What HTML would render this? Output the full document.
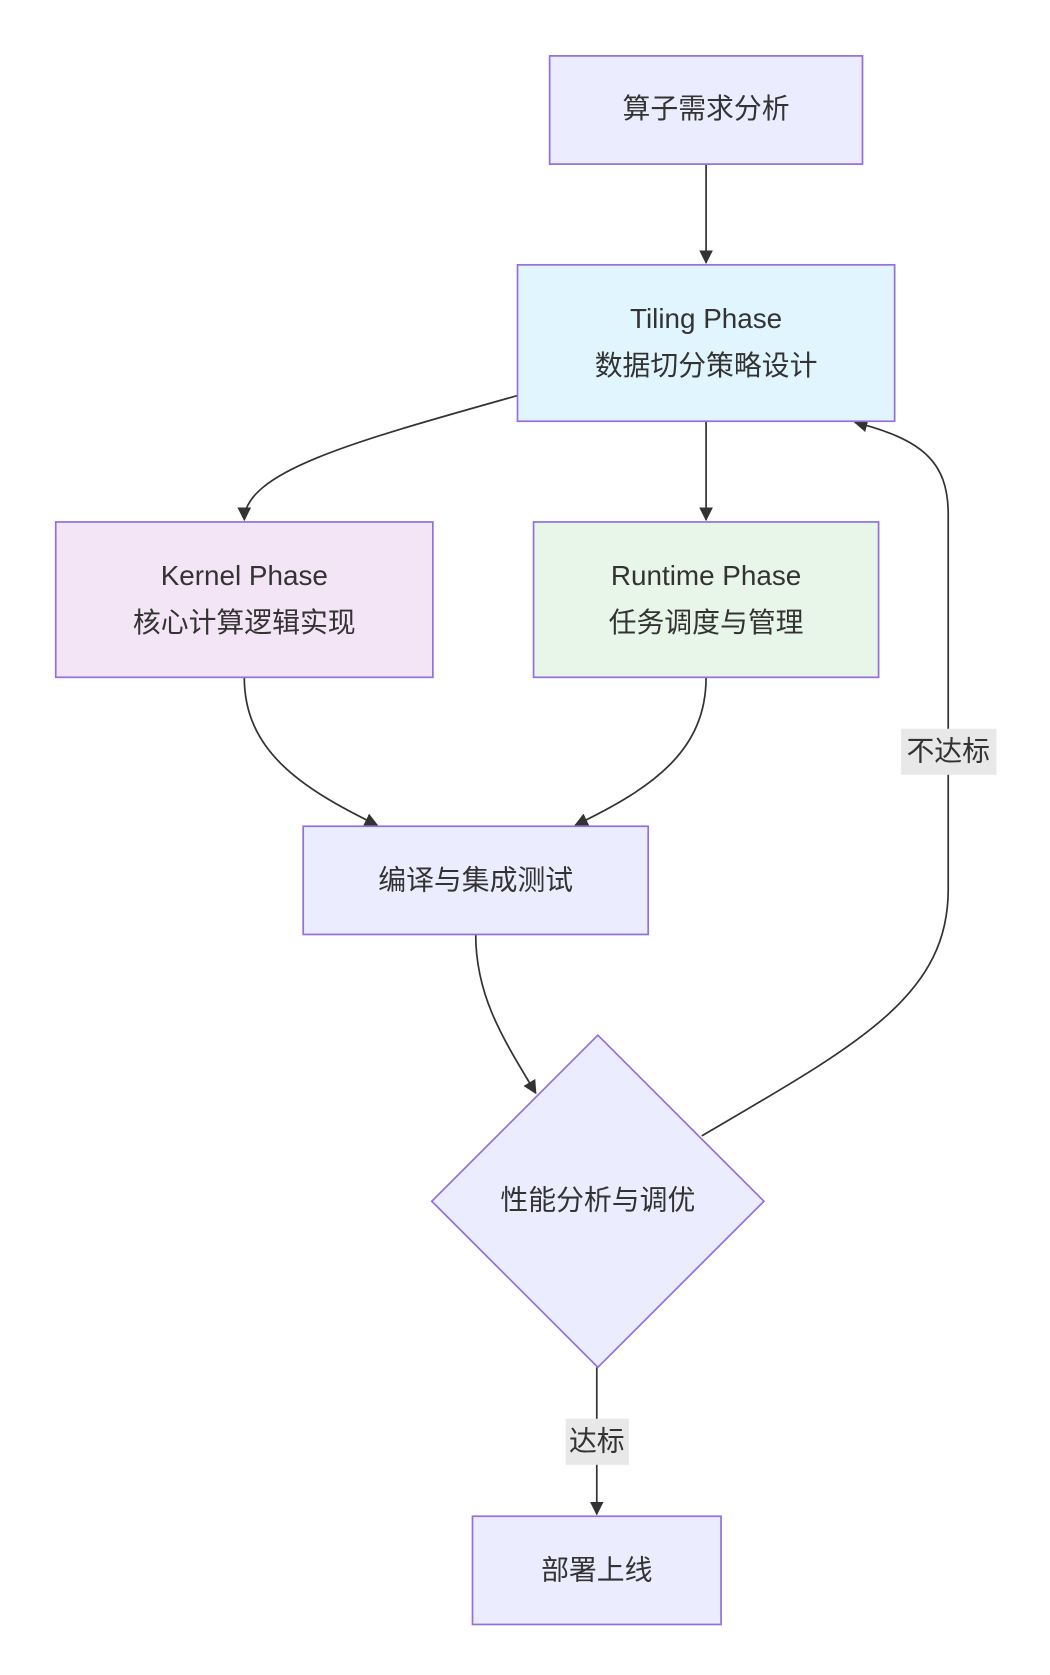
<!DOCTYPE html>
<html><head><meta charset="utf-8"><style>
html,body{margin:0;padding:0;background:#fff;}
svg{display:block;}
text{font-family:"Liberation Sans","Noto Sans CJK SC",sans-serif;font-size:26px;fill:#333;text-anchor:middle;dominant-baseline:central;}
</style></head><body>
<svg width="1050" height="1675" viewBox="0 0 980 1563" xmlns="http://www.w3.org/2000/svg">
<defs><marker id="a" viewBox="0 0 10 10" refX="9" refY="5" markerWidth="8" markerHeight="8" orient="auto-start-reverse"><path d="M0,0L10,5L0,10z" fill="#333"/></marker></defs>
<g fill="none" stroke="#333" stroke-width="1.6">
<path d="M659,153L659,245" marker-end="url(#a)"/>
<path d="M483,369C330,412 228,440 228,485" marker-end="url(#a)"/>
<path d="M659,393L659,485" marker-end="url(#a)"/>
<path d="M228,632C228,700 280,735 352,770" marker-end="url(#a)"/>
<path d="M659,632C659,700 610,735 537,770" marker-end="url(#a)"/>
<path d="M444,872C444,930 470,970 500,1020" marker-end="url(#a)"/>
<path d="M655,1060C800,975 885,930 885,830L885,480C885,430 860,410 798,394" marker-end="url(#a)"/>
<path d="M557,1276L557,1413" marker-end="url(#a)"/>
</g>
<g stroke="#9370db" stroke-width="1.6">
<rect x="513" y="52" width="292" height="101" fill="#ececff"/>
<rect x="483" y="247" width="352" height="146" fill="#e1f5fe"/>
<rect x="52" y="487" width="352" height="145" fill="#f3e5f5"/>
<rect x="498" y="487" width="322" height="145" fill="#e8f5e9"/>
<rect x="283" y="771" width="322" height="101" fill="#ececff"/>
<polygon points="558,966 713,1121 558,1276 403,1121" fill="#ececff"/>
<rect x="441" y="1415" width="232" height="101" fill="#ececff"/>
</g>
<rect x="841" y="680" width="89" height="43" fill="#e8e8e8"/>
<rect x="528" y="1324" width="59" height="43" fill="#e8e8e8"/>
<text x="659" y="101">算子需求分析</text>
<text x="659" y="297">Tiling Phase</text>
<text x="659" y="341">数据切分策略设计</text>
<text x="228" y="537">Kernel Phase</text>
<text x="228" y="581">核心计算逻辑实现</text>
<text x="659" y="537">Runtime Phase</text>
<text x="659" y="581">任务调度与管理</text>
<text x="444" y="821">编译与集成测试</text>
<text x="558" y="1120">性能分析与调优</text>
<text x="557" y="1465">部署上线</text>
<text x="885" y="701">不达标</text>
<text x="557" y="1345">达标</text>
</svg>
</body></html>
